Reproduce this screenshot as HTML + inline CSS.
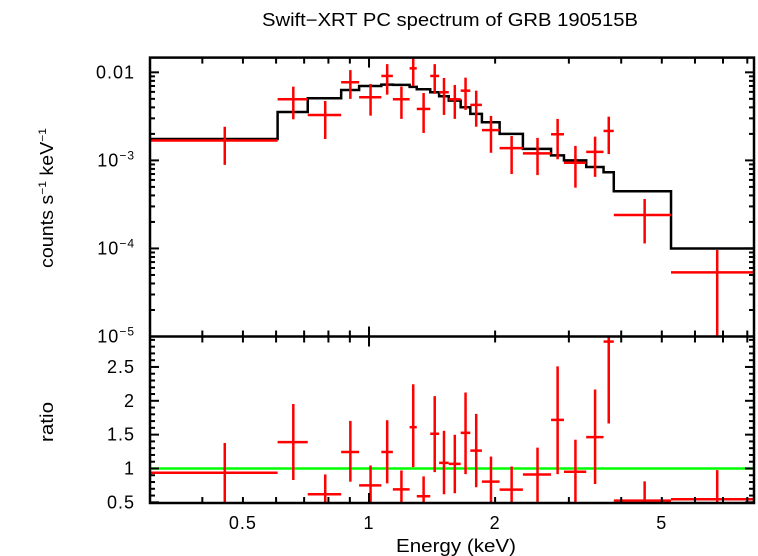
<!DOCTYPE html>
<html><head><meta charset="utf-8"><style>
html,body{margin:0;padding:0;background:#fff;}
svg{display:block;font-family:"Liberation Sans",Arial,sans-serif;}
</style></head><body>
<svg id="chart" width="758" height="556" viewBox="0 0 758 556" xmlns="http://www.w3.org/2000/svg">
<text x="450" y="26" font-size="18" text-anchor="middle" textLength="376" lengthAdjust="spacingAndGlyphs">Swift−XRT PC spectrum of GRB 190515B</text>
<text transform="translate(53,198) rotate(-90)" font-size="18" text-anchor="middle" textLength="140" lengthAdjust="spacingAndGlyphs">counts s<tspan dy="-7" font-size="11">−1</tspan><tspan dy="7"> keV</tspan><tspan dy="-7" font-size="11">−1</tspan></text>
<text transform="translate(53,422) rotate(-90)" font-size="18" text-anchor="middle" textLength="40" lengthAdjust="spacingAndGlyphs">ratio</text>
<text x="456" y="552" font-size="18" text-anchor="middle" textLength="120" lengthAdjust="spacingAndGlyphs">Energy (keV)</text>
<g id="g"></g>
</svg>
<script>
const binLo   = [0.30,0.605,0.714,0.858,0.947,1.07,1.14,1.25,1.30,1.40,1.47,1.55,1.655,1.745,1.86,2.05,2.33,2.72,2.92,3.30,3.63,3.84,5.26];
const binHi   = [0.605,0.714,0.858,0.947,1.07,1.14,1.25,1.30,1.40,1.47,1.55,1.655,1.745,1.86,2.05,2.33,2.72,2.92,3.30,3.63,3.84,5.26,8.30];
const rate    = [1.68e-3,4.94e-3,3.28e-3,7.72e-3,5.21e-3,9.1e-3,4.94e-3,1.11e-2,3.84e-3,9.1e-3,5.94e-3,4.94e-3,6.19e-3,4.27e-3,2.21e-3,1.38e-3,1.2e-3,1.98e-3,9.4e-4,1.25e-3,2.16e-3,2.4e-4,5.35e-5];
const rateHi  = [2.41e-3,6.88e-3,4.73e-3,1.06e-2,7.38e-3,1.24e-2,6.88e-3,1.58e-2,5.83e-3,1.24e-2,8.63e-3,7.19e-3,8.7e-3,6.19e-3,3.2e-3,1.89e-3,1.8e-3,2.96e-3,1.46e-3,1.86e-3,3.14e-3,3.64e-4,9.6e-5];
const rateLo  = [8.9e-4,2.93e-3,1.75e-3,4.99e-3,3.22e-3,5.58e-3,2.96e-3,7.0e-3,2.05e-3,5.69e-3,3.28e-3,2.96e-3,3.74e-3,2.41e-3,1.22e-3,7.0e-4,6.8e-4,1.03e-3,4.9e-4,6.5e-4,1.18e-3,1.14e-4,1e-6];
const model   = [1.75e-3,3.55e-3,5.08e-3,6.31e-3,7.0e-3,7.24e-3,7.2e-3,6.83e-3,6.43e-3,5.94e-3,5.35e-3,4.77e-3,4.01e-3,3.37e-3,2.71e-3,2.0e-3,1.35e-3,1.14e-3,1.0e-3,8.4e-4,7.33e-4,4.46e-4,1.0e-4];
const ratio   = [0.937,1.39,0.619,1.244,0.751,1.244,0.692,1.61,0.59,1.513,1.083,1.068,1.527,1.264,0.805,0.687,0.912,1.718,0.951,1.464,2.875,0.526,0.546];
const ratioHi = [1.376,1.952,0.912,1.703,1.044,1.713,0.971,2.245,0.883,2.069,1.557,1.498,2.123,1.806,1.176,1.029,1.308,2.509,1.425,2.167,3.5,0.81,0.976];
const ratioLo = [0.3,0.829,0.3,0.805,0.3,0.78,0.3,1.02,0.3,0.946,0.619,0.634,0.917,0.722,0.3,0.3,0.507,0.917,0.3,0.771,1.664,0.3,0.3];
const xTicksMinor = [0.3,0.4,0.5,0.6,0.7,0.8,0.9,1,2,3,4,5,6,7,8];
const xTickLabels = [0.5,1,2,5];
const topYLabels = ["0.01","10|−3","10|−4","10|−5"];
const topYLabelVals = [1e-2,1e-3,1e-4,1e-5];
const ratioTickLabels = [0.5,1,1.5,2,2.5];

const L=150,R=754,T=57.6,M=336.5,B=503;
const XMIN=0.3,XMAX=8.3;
const YTOP=0.0147,YBOT=1e-5;
const RMIN=0.49,RMAX=2.95;
const X=e=>L+(Math.log10(e)-Math.log10(XMIN))/(Math.log10(XMAX)-Math.log10(XMIN))*(R-L);
const Y=v=>T+(Math.log10(YTOP)-Math.log10(Math.max(v,1e-9)))/(Math.log10(YTOP)-Math.log10(YBOT))*(M-T);
const YR=r=>M+(RMAX-r)/(RMAX-RMIN)*(B-M);
const clampT=y=>Math.max(T,Math.min(M,y));
const clampB=y=>Math.max(M,Math.min(B,y));
const NS="http://www.w3.org/2000/svg";
const g=document.getElementById('g');
function el(tag,attrs,parent){const e=document.createElementNS(NS,tag);for(const k in attrs)e.setAttribute(k,attrs[k]);(parent||g).appendChild(e);return e;}
function ln(x1,y1,x2,y2,c,w,p){return el('line',{x1,y1,x2,y2,stroke:c,'stroke-width':w},p);}

let d='';
for(let i=0;i<binLo.length;i++){const y=Y(model[i]);d+=(i?'L':'M')+X(binLo[i])+','+y+'L'+X(binHi[i])+','+y;}
const mp=el('path',{d,fill:'none',stroke:'#000','stroke-width':2.5});



for(let i=0;i<rate.length;i++){
  const gp=el('g',{});
  
  
  const xc=X((binLo[i]+binHi[i])/2),y=Y(rate[i]);
  ln(X(binLo[i]),y,X(binHi[i]),y,'#f00',2.5,gp);
  ln(xc,clampT(Y(rateHi[i])),xc,clampT(Y(rateLo[i])),'#f00',2.5,gp);
}
const gl=ln(L,YR(1),R,YR(1),'#0f0',2.5);


for(let i=0;i<ratio.length;i++){
  const gp=el('g',{});
  
  
  const xc=X((binLo[i]+binHi[i])/2),y=YR(ratio[i]);
  ln(X(binLo[i]),y,X(binHi[i]),y,'#f00',2.5,gp);
  ln(xc,clampB(YR(ratioHi[i])),xc,clampB(YR(ratioLo[i])),'#f00',2.5,gp);
}
const fr=el('g',{});


el('rect',{x:L,y:T,width:R-L,height:B-T,fill:'none',stroke:'#000','stroke-width':2.5},fr);
ln(L,M,R,M,'#000',2.5,fr);
for(const t of xTicksMinor){
  const x=X(t);const len=(t===1)?10:6;
  ln(x,T,x,T+len,'#000',2,fr);
  ln(x,M-len,x,M+len,'#000',2,fr);
  ln(x,B,x,B-len,'#000',2,fr);
}
for(const t of xTickLabels){
  const tx=el('text',{x:X(t),y:529,'font-size':18,'text-anchor':'middle','letter-spacing':'1'});
  
  
  tx.textContent=String(t);
}
for(let dec=-5;dec<=-2;dec++){
  for(let m=1;m<=9;m++){
    const v=m*Math.pow(10,dec);if(v>YTOP||v<YBOT)continue;
    const y=Y(v);const len=(m===1)?9:5;
    ln(L,y,L+len,y,'#000',2,fr);ln(R,y,R-len,y,'#000',2,fr);
  }
}
for(let i=0;i<topYLabels.length;i++){
  const y=Y(topYLabelVals[i]);const parts=topYLabels[i].split('|');
  const tx=el('text',{x:135,y:y+6,'font-size':18,'text-anchor':'end','letter-spacing':'1'});
  
  
  if(parts.length>1){tx.innerHTML=parts[0]+'<tspan dy="-7" font-size="12">'+parts[1]+'</tspan>';}
  else tx.textContent=parts[0];
}
for(let k=5;k<=29;k++){
  const r=k/10;const y=YR(r);const len=(k%5===0)?9:5;
  ln(L,y,L+len,y,'#000',2,fr);ln(R,y,R-len,y,'#000',2,fr);
}
for(const t of ratioTickLabels){
  const tx=el('text',{x:135,y:YR(t)+6,'font-size':18,'text-anchor':'end','letter-spacing':'1'});
  
  
  tx.textContent=String(t);
}
</script>
</body></html>
